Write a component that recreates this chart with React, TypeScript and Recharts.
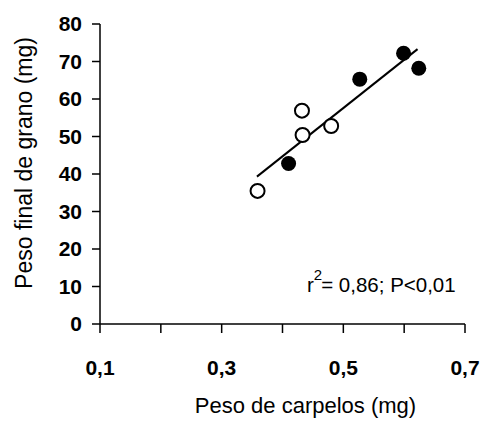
import { Customized, ReferenceLine, Scatter, ScatterChart, XAxis, YAxis } from "recharts";

// Carpel weight (mg) vs final grain weight (mg)
const openPoints = [
  { x: 0.359, y: 35.5 },
  { x: 0.432, y: 56.9 },
  { x: 0.433, y: 50.4 },
  { x: 0.48, y: 52.8 }
];

const filledPoints = [
  { x: 0.41, y: 42.8 },
  { x: 0.527, y: 65.3 },
  { x: 0.599, y: 72.2 },
  { x: 0.624, y: 68.2 }
];

// fitted line end points
const fitLine = [
  { x: 0.358, y: 39.3 },
  { x: 0.622, y: 73.3 }
];

const xTicks = [0.1, 0.2, 0.3, 0.4, 0.5, 0.6, 0.7];
const xTickLabels = ["0,1", "", "0,3", "", "0,5", "", "0,7"];
const yTicks = [0, 10, 20, 30, 40, 50, 60, 70, 80];

const FONT = "'Liberation Sans', Arial, sans-serif";

const OpenDot = (props: any) => (
  <circle cx={props.cx} cy={props.cy} r={7} fill="#fff" stroke="#000" strokeWidth={2} />
);

const FilledDot = (props: any) => (
  <circle cx={props.cx} cy={props.cy} r={7.5} fill="#000" />
);

const StatsNote = () => (
  <text x={307} y={292} fontFamily={FONT} fontSize={20.5} fill="#000">
    r
    <tspan dy={-12} fontSize={15}>2</tspan>
    <tspan dy={12} dx={-1}>= 0,86; P&lt;0,01</tspan>
  </text>
);

export default function App() {
  return (
    <div style={{ position: "absolute", left: 0, top: 0, background: "#fff" }}>
      <ScatterChart
        width={482}
        height={421}
        margin={{ top: 24, right: 17, bottom: 0, left: 0 }}
        style={{ fontFamily: FONT }}
      >
        <XAxis
          type="number"
          dataKey="x"
          domain={[0.1, 0.7]}
          ticks={xTicks}
          tickFormatter={(v: number) => xTickLabels[xTicks.findIndex((t) => Math.abs(t - v) < 1e-6)] ?? ""}
          height={97}
          tickSize={9}
          tickMargin={27}
          stroke="#000"
          strokeWidth={1.5}
          tick={{ fill: "#000", fontSize: 21, fontWeight: "bold" }}
          interval={0}
          label={{
            content: ({ viewBox }: any) => (
              <text
                x={viewBox.x + viewBox.width / 2 + 23}
                y={413}
                textAnchor="middle"
                fontFamily={FONT}
                fontSize={22}
                fill="#000"
              >
                Peso de carpelos (mg)
              </text>
            )
          }}
        />
        <YAxis
          type="number"
          dataKey="y"
          domain={[0, 80]}
          ticks={yTicks}
          width={100}
          tickSize={8}
          tickMargin={10}
          stroke="#000"
          strokeWidth={1.5}
          tick={{ fill: "#000", fontSize: 21, fontWeight: "bold" }}
          interval={0}
          label={{
            content: () => (
              <text
                x={32}
                y={163}
                transform="rotate(-90 32 163)"
                textAnchor="middle"
                fontFamily={FONT}
                fontSize={23}
                fill="#000"
              >
                Peso final de grano (mg)
              </text>
            )
          }}
        />
        <ReferenceLine
          segment={[fitLine[0], fitLine[1]]}
          stroke="#000"
          strokeWidth={2}
          ifOverflow="visible"
        />
        <Scatter data={openPoints} shape={OpenDot} isAnimationActive={false} />
        <Scatter data={filledPoints} shape={FilledDot} isAnimationActive={false} />
        <Customized component={StatsNote} />
      </ScatterChart>
    </div>
  );
}
